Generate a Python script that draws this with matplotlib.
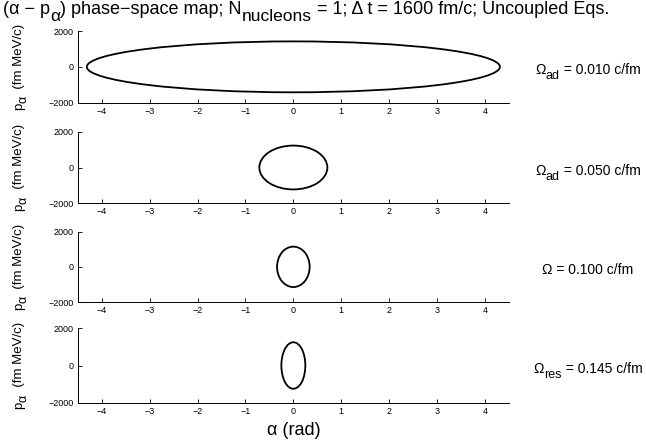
import numpy as np
import matplotlib
matplotlib.use("Agg")
import matplotlib.pyplot as plt
from matplotlib.patches import Ellipse

# fonts (Helvetica-ish, like the MATLAB original)
plt.rcParams["font.family"] = ["Liberation Sans", "DejaVu Sans"]

# 1) data: half-widths of each phase-space orbit
# label parts: (text, is_subscript)
omega_labels = [[("Ω", 0), ("ad", 1), (" = 0.010 c/fm", 0)],
                [("Ω", 0), ("ad", 1), (" = 0.050 c/fm", 0)],
                [("Ω = 0.100 c/fm", 0)],
                [("Ω", 0), ("res", 1), (" = 0.145 c/fm", 0)]]
alpha_amp = [4.31, 0.71, 0.34, 0.25]        # rad
p_amp = [1420, 1225, 1150, 1250]            # fm MeV/c
x_ticks = [-4, -3, -2, -1, 0, 1, 2, 3, 4]
y_ticks = [-2000, 0, 2000]
title_parts = [("(α − p", 0), ("α", 1), (") phase−space map; N", 0), ("nucleons", 1),
               (" = 1; Δ t = 1600 fm/c; Uncoupled Eqs.", 0)]
ylabel_parts = [("p", 0), ("α", 1), ("  (fm MeV/c)", 0)]

W, H = 646, 444
# panel top / bottom in pixels
panel_px = [(31, 102.7), (131.7, 203.3), (231.7, 302), (328.3, 402.7)]
ax_left, ax_right = 77.7, 509

fig = plt.figure(figsize=(W / 100, H / 100), dpi=100)
renderer = fig.canvas.get_renderer()


def text_width(s, size):
    # measure with guard chars so spaces at the ends count
    t1 = fig.text(0, 0, "|" + s + "|", fontsize=size)
    t2 = fig.text(0, 0, "||", fontsize=size)
    w = t1.get_window_extent(renderer).width - t2.get_window_extent(renderer).width
    t1.remove()
    t2.remove()
    return w


def rich_text(x, y, parts, size, sub_size, drop, center=False, vertical=False):
    # x, y in pixels from top-left, at the baseline; MATLAB-style subscripts
    sizes = [sub_size if sub else size for _, sub in parts]
    widths = [text_width(s, sz) for (s, _), sz in zip(parts, sizes)]
    pos = -sum(widths) / 2 if center else 0
    for (s, sub), sz, w in zip(parts, sizes, widths):
        d = drop if sub else 0
        if vertical:
            px, py = x + d, y - pos
        else:
            px, py = x + pos, y + d
        fig.text(px / W, 1 - py / H, s, fontsize=sz, rotation=90 if vertical else 0,
                 rotation_mode="anchor", ha="left", va="baseline")
        pos += w


for i, (top, bot) in enumerate(panel_px):
    ax = fig.add_axes([ax_left / W, 1 - bot / H, (ax_right - ax_left) / W, (bot - top) / H])
    ax.add_patch(Ellipse((0, 0), 2 * alpha_amp[i], 2 * p_amp[i],
                         fill=False, color="k", lw=1.3))
    ax.set_xlim(-4.5, 4.5)
    ax.set_ylim(-2000, 2000)
    ax.set_xticks(x_ticks)
    ax.set_yticks(y_ticks)
    ax.tick_params(direction="in", length=3, width=0.6, labelsize=6.5, pad=3)
    for s in ["top", "right"]:
        ax.spines[s].set_visible(False)
    for s in ["left", "bottom"]:
        ax.spines[s].set_linewidth(0.7)

    yc = (top + bot) / 2
    rich_text(22, yc, ylabel_parts, 9.5, 9, 5, center=True, vertical=True)
    rich_text(588, yc + 7, omega_labels[i], 10, 9, 5, center=True)

# 2) title and x label
rich_text(3, 14, title_parts, 13, 12.5, 7)
fig.text((ax_left + ax_right) / 2 / W, 1 - 430 / H, "α (rad)",
         ha="center", va="center", fontsize=13)

fig.savefig("out.png", dpi=100)
